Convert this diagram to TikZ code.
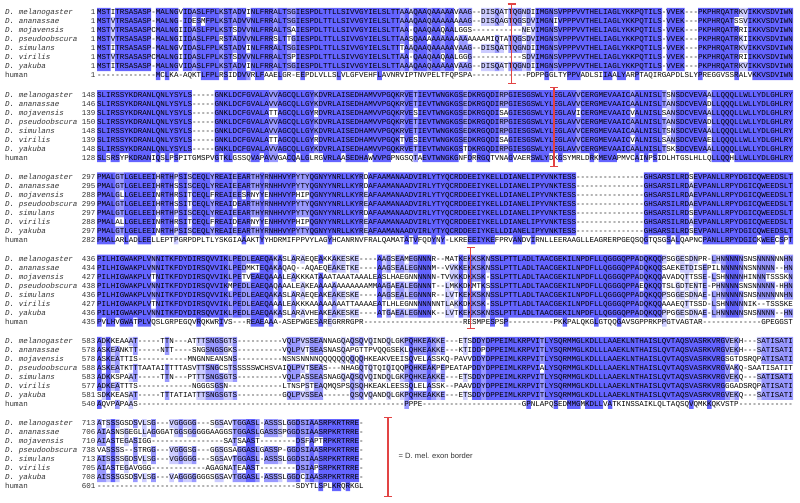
\documentclass[tikz,border=0pt]{standalone}
\usepackage{fontspec}
\setmainfont{Liberation Sans}
\setmonofont{Liberation Mono}
\usetikzlibrary{arrows.meta}

\definecolor{pidhigh}{RGB}{100,100,255}
\definecolor{pidmid}{RGB}{153,153,255}
\definecolor{pidlow}{RGB}{204,204,255}
\definecolor{exonred}{RGB}{226,68,68}

\newcommand\seqfont{\ttfamily\fontsize{7.53}{9}\selectfont}
\newcommand\speciesname[1]{\ifcase#1\or\textit{D. melanogaster}\or\textit{D. ananassae}\or
  \textit{D. mojavensis}\or\textit{D. pseudoobscura}\or\textit{D. simulans}\or
  \textit{D. virilis}\or\textit{D. yakuba}\or human\fi}

% one row: block, row, y, first residue number, residues
\newcommand\alnrow[5]{%
  \node[species] (name-#1-#2) at (5,#3+2.3) {\speciesname{#2}};
  \node[startno] (num-#1-#2) at (95.6,#3+2.3) {#4};
  \node[residues] (seq-#1-#2) at (97,#3+2.3) {#5};
}

% shading by percentage identity of each column (8 sequences)
\ExplSyntaxOn
\int_new:N \l_aln_len_int
\int_new:N \l_aln_max_int
\int_new:N \l_aln_cnt_int
\int_new:N \g_aln_block_int
\tl_new:N \l_aln_best_tl
\tl_new:N \l_aln_high_tl
\tl_new:N \l_aln_mid_tl
\tl_new:N \l_aln_low_tl
\tl_new:N \l_aln_item_tl
\clist_new:N \l_aln_rows_clist
\clist_new:N \l_aln_nums_clist
\fp_const:Nn \c_aln_w_fp {4.52}

\cs_new:Npn \gap #1 { \prg_replicate:nn {#1} {-} }

\cs_new_protected:Npn \aln_if_residue:nT #1#2
  {
    \tl_if_empty:cF {l_aln_ch_#1_tl}
      { \str_if_eq:eeF { \tl_use:c {l_aln_ch_#1_tl} } { - } {#2} }
  }

\cs_new_protected:Npn \aln_count:n #1
  {
    \int_zero:N \l_aln_cnt_int
    \int_step_inline:nn {8}
      { \tl_if_eq:ccT {l_aln_ch_#1_tl} {l_aln_ch_##1_tl} { \int_incr:N \l_aln_cnt_int } }
  }

\cs_new_protected:Npn \aln_try:n #1
  {
    \aln_if_residue:nT {#1}
      {
        \aln_count:n {#1}
        \int_compare:nNnT { \l_aln_cnt_int } > { \l_aln_max_int }
          {
            \int_set_eq:NN \l_aln_max_int \l_aln_cnt_int
            \tl_set_eq:Nc \l_aln_best_tl {l_aln_ch_#1_tl}
          }
      }
  }

\cs_new_protected:Npn \aln_mark:nnn #1#2#3
  {
    \tl_if_eq:NcT \l_aln_best_tl {l_aln_ch_#1_tl}
      {
        \tl_set:Nx \l_tmpa_tl
          {
            ( \fp_eval:n { 97 + (#2 - 1) * \c_aln_w_fp } ,
              \fp_eval:n { #3 + 9 * (#1 - 1) - 4.5 } )
            ~rectangle~
            ( \fp_eval:n { 97 + #2 * \c_aln_w_fp } ,
              \fp_eval:n { #3 + 9 * (#1 - 1) + 4.5 } ) ~
          }
        \int_compare:nNnTF { \l_aln_max_int } > { 6 }
          { \tl_put_right:NV \l_aln_high_tl \l_tmpa_tl }
          {
            \int_compare:nNnTF { \l_aln_max_int } > { 4 }
              { \tl_put_right:NV \l_aln_mid_tl \l_tmpa_tl }
              { \tl_put_right:NV \l_aln_low_tl \l_tmpa_tl }
          }
      }
  }

\cs_new_protected:Npn \aln_column:nn #1#2
  {
    \int_step_inline:nn {8}
      { \tl_set:cx {l_aln_ch_##1_tl} { \str_item:cn {l_aln_row_##1_str} {#1} } }
    \int_zero:N \l_aln_max_int
    \tl_clear:N \l_aln_best_tl
    \int_step_inline:nn {8} { \aln_try:n {##1} }
    \int_compare:nNnT { \l_aln_max_int } > { 3 }
      { \int_step_inline:nn {8} { \aln_mark:nnn {##1} {#1} {#2} } }
  }

% #1 y of first row, #2 start numbers, #3 the eight rows
\cs_new_protected:Npn \alnblock #1#2#3
  {
    \int_gincr:N \g_aln_block_int
    \clist_set:Nn \l_aln_nums_clist {#2}
    \clist_set:Nn \l_aln_rows_clist {#3}
    \int_step_inline:nn {8}
      {
        \tl_set:Nx \l_aln_item_tl { \clist_item:Nn \l_aln_rows_clist {##1} }
        \str_set:cx {l_aln_row_##1_str} { \l_aln_item_tl }
      }
    \int_set:Nn \l_aln_len_int { \str_count:c {l_aln_row_1_str} }
    \tl_clear:N \l_aln_high_tl
    \tl_clear:N \l_aln_mid_tl
    \tl_clear:N \l_aln_low_tl
    \int_step_inline:nn { \l_aln_len_int } { \aln_column:nn {##1} {#1} }
    \use:x
      {
        \exp_not:N \fill [pidlow] \exp_not:V \l_aln_low_tl ;
        \exp_not:N \fill [pidmid] \exp_not:V \l_aln_mid_tl ;
        \exp_not:N \fill [pidhigh] \exp_not:V \l_aln_high_tl ;
      }
    \int_step_inline:nn {8}
      {
        \use:x
          {
            \exp_not:N \alnrow {\int_use:N \g_aln_block_int} {##1}
              { \fp_eval:n { #1 + 9 * (##1 - 1) } }
              { \clist_item:Nn \l_aln_nums_clist {##1} }
              { \str_use:c {l_aln_row_##1_str} }
          }
      }
  }
\ExplSyntaxOff

\begin{document}
\begin{tikzpicture}[
  x=1pt,y=-1pt,
  species/.style={font=\seqfont,text=black!80,anchor=base west,inner sep=0pt},
  startno/.style={font=\seqfont,text=black!80,anchor=base east,inner sep=0pt},
  residues/.style={font=\seqfont,anchor=base west,inner sep=0pt},
  exonbar/.style={draw=exonred,line width=1.2pt,{Bar[width=8pt]}-{Bar[width=8pt]}},
  legend/.style={font=\fontsize{7.6}{9}\selectfont,text=black!80,anchor=west,inner sep=0pt}
]
\fill[white] (0,0) rectangle (800,503);
\useasboundingbox (0,0) rectangle (800,503);

% ---- block 1 ----
\alnblock{12.5}{1,1,1,1,1,1,1,1}{
MSTITRSASASP-MALNGVIDASLFPLKSTADVINLFRRALTSGIESPDLTTLLSIVVGYIELSLTTAAAQAAQAAAAAVAAG--DISQATTQGNDIIMGNSVPPPVVTHELIAGLYKKPQTILS-VVEK---PKPHRQATRKVIKKVSDVIWN,
MSTVTRSASASP-MALNG-IDESMFPLKSTADVVNLFRRALTSGIESPDLTTLLSIVVGYIELSLTTAAAQAAQAAAAAAAAG--DISQAGTQGSDVIMGNIVPPPVVTHELIAGLYKKPQTILS-VVEK---PKPHRQATSSVIKKVSDVIWN,
MSTVTRSASASPCMALNGIIDASLFPLKSTSDVVNLFRRALTSAIESPDLTTLLSIVVGYIELSLTTAA-QAAQAAQAALGGS\gap{11}NEVIMGNSVPPPVVTHELIAGLYKKPQTILS-VVEK---PKPHRQATRRIIKKVSDVIWN,
MSTVTRSASASP-MALNGIIDASLFPLRSTADVVNLFRRSLTTGIESPDLTTLLSIVVGYIELSLTTAASQAAAAAAAAAAAAAAAMIQTATQGSDVIMGNSVPPPVVTHELIAGLYKKPQTILS-VVEK---PKPHRQATRKIIKKVSDVIWN,
MSTITRSASASP-MALNGVIDASLFPLKSTADVINLFRRALTSGIESPDLTTLLSIVVGYIELSLTTTAAQAAQAAAAAVAAG--DISQATTQGNDIIMGNSVPPPVVTHELIAGLYKKPQTILS-VVEK---PKPHRQATRKVIKKVSDVIWN,
MSTVTRSASASPCMALNGIIDASLFPLKSTSDVVNLFRRALTSPIESPDLTTLLSIVVGYIELSLTTAA-QAAQAAQAALGGG\gap{11}SDVIMGNSVPPPVVTHELIAGLYKKPQTILS-VVEK---PKPHRQATRRIIKKVSDVIWN,
MSTITRSASASP-MALNGVIDASLFPLKSTADVINLFRRALTSGIESPDLTTLLSIVVGYIELSLTTAAAQAAQAAAAAVAAG--DISQATTQGNDIIMGNSVPPPVVTHELIAGLYKKPQTILS-VVEK---PKPHRQATRKVIKKVSDVIWN,
\gap{13}MCLKA-AQKTLFPLRSIDDVVRLFAAELGR-EEPDLVLLSLVLGFVEHFLAVNRVIPTNVPELTFQPSPA\gap{12}PDPPGGLTYPPVADLSIIAALYARPTAQIRGAPDLSLYPREGGVSSRALVKKVSDVIWN}

% ---- block 2 ----
\alnblock{94.7}{148,146,139,150,148,139,148,128}{
SLIRSSYKDRANLQNLYSYLS\gap{5}GNKLDCFGVALAVVAGCQLLGYKDVRLAISEDHAMVVPGQKRVETIEVTWNGKGSEDKRGQDIRPGIESGSWLYLEGLAVVCERGMEVAAICAALNISLTSNSDCVEVAALLQQQLLWLLYDLGHLRY,
SLIRSSYKDRANLQNLYSYLS\gap{5}GNKLDCFGVALAVVAGCQLLGYKDVRLAISEDHAMVVPGQKRVETIEVTWNGKGSEDKRGQDIRPGIESGSWLYLEGLAVVCERGMEVAAICAALNISLTANSDCVEVADLLQQQLLWLLYDLGHLRY,
SLIRSSYKDRANLQNLYSYLS\gap{5}GNKLDCFGVALATTAGCQLLGYRDVRLAISEDHAMVVPGQKRVESIEVTWNGKGSEDKRGQDISAGIESGSWLYLEGLAVICERGMEVAAICVALNISLSANSDCVEVAALLQQQLLWLLYDLGHLRY,
SLIRSSYKDRANLQNLYSYLS\gap{5}GNKLDCFGVALAVVAGCQLLGYKDVRLAISEDHAMVVPGQKRVETIEVTWNGKGSEDKRGQDIRPGIESGSWLYLEGLAVVCERGMEVAAICAALNISLTANSDCVEVADLLQQQLLWLLYDLGHLRY,
SLIRSSYKDRANLQNLYSYLS\gap{5}GNKLDCFGVALAVVAGCQLLGYKDVRLAISEDHAMVVPGQKRVETIEVTWNGKGSEDKRGQDIRPGIESGSWLYLEGLAVVCERGMEVAAICAALNISLTSNSDCVEVAALLQQQLLWLLYDLGHLRY,
SLIRSSYKDRANLQNLYSYLS\gap{5}GNKLDCFGVALATTAGCQLLGYRDVRLAISEDHAMVVPGQKTVESIEVTWNGKGSEDKRGQDISAGIESGSWLYLEGLAVVCERGMEVAAICVALNISLSANSDCVEVAELLQQQLLWLLYDLGHLRY,
SLIRSSYKDRANLQNLYSYLS\gap{5}GNKLDCFGVALAVVAGCQLLGYKDVRLAISEDHAMVVPGQKRVETIEVTWNGKGSTDKRGQDIRPGIESGSWLYLEGLAVVCERGMEVAAICAALNISLTSKSDCVEVAALLQQQLLWLLYDLGHLRY,
SLSRSYPKDRANIQSLPSPITGMSPVGTKLGSSQVAPAVVGACQALGLRGVRLAASEDHAWVVPGPNGSQTAEVTWNGKGNFDRRGQTVNAGVAERSWLYDKGSYMRLDRKMEVAPMVCAINPSIDLHTGSLHLLQLLQQHLLWLLYDLGHLRY}

% ---- block 3 ----
\alnblock{176.9}{297,295,288,299,297,288,297,282}{
PMALGTLGELEEIHRTHPSISCEQLYREAIEEARTHYRNHHVYPYTYQGNYYNRLLKYRDAFAAMANAADVIRLYTYQCRDDEEIYKELLDIANELIPYVNKTESS\gap{15}GHSARSILRDSEVPANLLRPYDGICQWEEDSLT,
PMALGTLGELEEIHRTHSSISCEQLYREAIEEARTHYRNHHVYPYTYQGNYYNRLLKYRDAFAAMANAADVIRLYTYQCRDDEEIYKELLDIANELIPYVNKTESS\gap{15}GHSARSILRDAEVPANLLRPYDGICQWEEDSLT,
PMALGLLGELEEINRTHRSITCEQLFREAIEESRNYYENHHVYPHIPQGNYYNRLLKYREAFAAMANAADVIRLYTYQCRDDEEIYKELLDIANELIPYVNKTESS\gap{15}GHSARSILRDAEVPANLLRPYDGICQWEEDSLT,
PMALGTLGELEEIHRTHSSITCEQLYREAIDEARTHYRNHHVYPYTYQGNYYNRLLKYREAFAAMANAADVIRLYTYQCRDDEEIYKELLDIANELIPYVNKTESS\gap{15}GHSARSILRDAEVPANLLRPYDGICQWEEDSLT,
PMALGTLGELEEIHRTHPSISCEQLYREAIEEARTHYRNHHVYPYTYQGNYYNRLLKYRDAFAAMANAADVIRLYTYQCRDDEEIYKELLDIANELIPYVNKTESS\gap{15}GHSARSILRDSEVPANLLRPYDGICQWEEDSLT,
PMALALLGELEEINRTHRSITCEQLFREAIDEARNYYENHHVYPHIPQGNYYNRLLKYREAFAAMANAADVIRLYTYQCRDDEEIYKELLDIANELIPYVNKTESS\gap{15}GHSARSILRDAEVPANLLRPYDGICQWEEDSLT,
PMALGTLGELEEINRTHPSISCEQLYREAIEEARTHYRNHHVYPYTYQGNYYNRLLKYREAFAAMANAADVIRLYTYQCRDDEEIYKELLDIANELIPYVNKTESS\gap{15}GHSARSILRDSEVPANLLRPYDGICQWEEDSLT,
PMALARLADLEELLEPTPGRPDPLTLYSKGIAAAKTYYHDRMIFPPVYLAGYHCANRNVFRALQAMATATVFQDYNY-LKREEEIYKEFPRVANDVIRNLLEERAAGLLEAGRERPGEQSQGTQSGSALQAPNCPANLLRPYDGICKWEECSPT}

% ---- block 4 ----
\alnblock{259.1}{436,434,427,438,436,427,436,435}{
PILHIGWAKPLVNNITKFDYDIRSQVVIKLPEDLEAEQAKASLARAEQEAKKAKESKE----AAGSEAMEGNNNR--MATKEKKSKNSSLPTTLADLTAACGEKILNPDFLLQGGGQPPADQKQQPSGGESDNPR-LHNNNNNSNSNNNNNNHN,
PILHIGWAKPLVNNITKFDYDIRSQVVIKLPEDMKTEQAKAQAQ--AQAEQEAKETKE----AAGSEALEGNNNM--VVKKEKKSKNSSLPTTLADLTAACGEKILNPDFLLQGGGQPPADQKQQSAEKETDISEPILNNNNNNSNNNNN--HN,
PILHIGWAKPLVTNITKFDYDIRSQVVIKLPETVEAEQAAALEAKKKATAAATAAATAAALEASLHAEGNNNNNN-TVVKKDKKSK-SSLPTTLADLTAACGEKILNPDFLLQGGGQPPADQKQQAVADQTTSSE-LSHNNNNHINNNTSSSKN,
PILHIGWAKPLVNNITKFDYDIRSQVVIKMPEDLEAEQAQAAALEAKEAAAAAAAAAAAAMMAAGAEALEGNNNT--LMKKDKMTKSSSLPTTLADLTAACGEKILNPDFLLQGGGQPPAEQKQQTSLGDTENTE-PHNNNNSNSNNNNN-HHN,
PILHIGWAKPLVNNITKFDYDIRSQVVIKLPEDLEAEQAKASLARAEQEAKEAKESKE----AAGSEALEGNNNR--LVTKEKKSKNSSLPTTLADLTAACGEKILNPDFLLQGGGQPPADQKQQPSGGESDNAE-LHNNNNNSNSNNNNNNHN,
PILHIGWAKPLVTNITKFDYDIRSQVVIKLPEDLEAEQAAALEAKKKAAAAAAAATTAAAAEATLHLEGNNNNNNNTLAKKDKKSK-SSLPTTLADLTAACGEKILNPDFLLQGGGQPPADQKQQAAAEQTTSSD-LSHNNNNNIK--TSSSKE,
PILHIGWAKPLVNNITKFDYDIRSQVVIKLPEDLEAEQAKASLARAVHEAKEAKESKE----ATGAEALEGNNNK--LVTKEKKSKNSSLPTTLADLTAACGEKILNPDFLLQGGGQPPADQKQQPPGGESDNAE-LHNNNNNSNSNNNN--HN,
PVLHVGWATPLVQSLGRPEGQVRQKWRIVS---REAEAAA-ASEPWGESAREGRRRGPR\gap{8}\gap{14}RESMPESPSP\gap{10}PKKPALQKGLGTQQGAVSGPPRKPPGTVAGTAR\gap{13}GPEGGST}

% ---- block 5 ----
\alnblock{341.3}{583,578,578,588,583,577,581,540}{
ADKKEAAAT\gap{5}TTN---ATTTSNGSGTS\gap{10}VQLPVSSEANNAGQAQSQVQINDQLGKPQHKEAKKE---ETSDDYDPPEIMLKRPVITLYSQRMMGLKDLLLAAEKLNTHAISLQVTAQSVASRKVRGVEKH---SATISATI,
ASKEANKTT\gap{5}NTT\gap{4}SNGSNGSGKS\gap{10}VQLPVTSEASNASQAPGTTPVQQGSEKLQHKEAKKE---KTIDDPDPPEIMLKRPVITLYSQRMMGLKDLLLAAEKLNTHAISLQVTAQSVASRKVRGVEKH---SATISATI,
ASKEATTIS\gap{11}MNGNNEANSNS\gap{10}NSNSNNNNQQQQQQQQQQHKEAKVEEISQVELASSKQ-PAVVDDYDPPEIMLKRPVITLYSQRMMGLKDLLLAAEKLNTHAISLQVTAQSVASRKVRGSGTDSRQPATISATI,
ASKEATKTTTAATAITTTTASVTTSNGCSTSSSSSWCHSVAIQLPVTSEAS---NHAGQTQTQIQIQQPQHKEAKPEPEATAPDDYDPPEIMLKRPVIALYSQRMMGLKDLLLAAEKLNTHAISLQVTAQSVASRKVRGVAKQ-SAATISATIT,
ADKKSPAAT\gap{5}TTN---PTTTSNGSGTS\gap{10}VQLPASSEASNAGQAQSQVQINDQLGKPQHKEAKKE---ETSDDYDPPEIMLKRPVITLYSQRMMGLKDLLLAAEKLNTHAISLQVTAQSVASRKVRGVEKQ---SATISATI,
ADKEATTTS\gap{12}NGGGSGSN\gap{12}LTNSPSTEAQMQSPSQSQHKEAKLEESSQLELASSK--PAAVDDYDPPEIMLKRPVITLYSQRMMGLKDLLLAAEKLNTHAISLQVTAQSVASRKVRGGGADSRQPATISATI,
SDKKEASAT\gap{5}TTTATIATTTSNGSGTS\gap{10}GQLPVSSEA\gap{6}QSQVQANDQLGKPQHKEAKKE---ETSDDYDPPEIMLKRPVITLYSQRMMGLKDLLLAAEKLNTHAISLQVTAQSVASRKVRGVEKQ---SATISATI,
AQVPAPAAS\gap{58}-PPPE\gap{22}GPNLAPQSEDMMGMKDLLVATKINSSAIKLQLTAQSQVQMKKQKVSTP\gap{12}}

% ---- block 6 ----
\alnblock{423.5}{713,706,710,738,713,705,708,601}{
ATSSSGSDSVLSG---VGGGGG---SGSAVTGGASL-ASSSLGGDSIAASRPKRTRRE-,
AIASNSGEGLLAGGGATGGSGGGGGAAGGSTGGASLGASSSPGGDSIAASRPKRTRRE-,
AIASTEGASIGG\gap{16}SATSAAST\gap{8}DSFAPTRPKRTRRE-,
VASSSS--STRGG---VGGGSG---GGSGSAGGASLGASSP-GGDSIAASRPKRTRRE-,
AISSSSGDSVLSG---VGGGGG---SGSAVTGGASL-ASSSLGGDSIAASRPKRTRRE-,
AIASTEGAVGGG\gap{12}AGAGNATEAAST\gap{8}DSIAPSRPKRTRRE-,
AISSSGSDSVLSG---VAGGGGGGGSGSAVTGGASL-ASSSLGGDCIAASRPKRTRRE-,
\gap{44}SDYTLSPLKRQRKGL}

% ---- exon borders ----
\coordinate (exon1-top) at (511.5,3.5);
\coordinate (exon1-bot) at (511.5,84);
\coordinate (exon2-top) at (554,86.5);
\coordinate (exon2-bot) at (554,167);
\coordinate (exon4-top) at (470.5,246.5);
\coordinate (exon4-bot) at (470.5,329);
\draw[exonbar] (exon1-top) -- (exon1-bot);
\draw[exonbar] (exon2-top) -- (exon2-bot);
\draw[exonbar] (exon4-top) -- (exon4-bot);

% ---- legend ----
\coordinate (key-top) at (388,417);
\coordinate (key-bot) at (388,497);
\draw[exonbar] (key-top) -- (key-bot);
\node[legend] (key-text) at (398.5,456) {= D. mel. exon border};
\end{tikzpicture}
\end{document}
